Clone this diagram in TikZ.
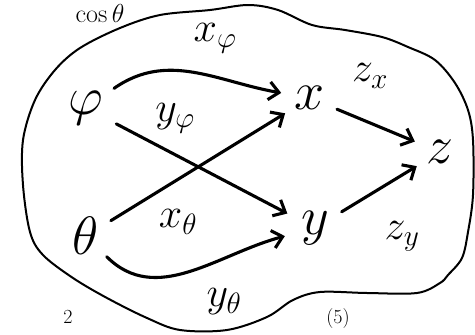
\RequirePackage{fix-cm}
\documentclass[tikz,border=0pt]{standalone}
\usetikzlibrary{arrows.meta}
\begin{document}
\begin{tikzpicture}[x=1pt,y=-1pt,
  ink/.style={line width=3.1pt,line cap=round,line join=round},
  arr/.style={ink,-{Straight Barb[length=10pt,width=18pt,line width=3.1pt]}},
  var/.style={font=\fontsize{54}{54}\selectfont,circle,inner sep=0pt},
  lab/.style={font=\fontsize{42}{42}\selectfont,inner sep=0pt},
  scrap/.style={font=\fontsize{20}{20}\selectfont,inner sep=0pt}]
\useasboundingbox (0,0) rectangle (475,335);
% blob
\draw[line width=2pt,line join=round] plot[smooth cycle,tension=0.55] coordinates {
 (248,5) (210,10) (160,15) (120,28) (80,48) (55,70) (35,100) (23,140) (23,185)
 (30,232) (43,255) (73,278) (107,298) (147,318) (180,330) (227,330) (267,317)
 (293,300) (320,292) (367,293) (417,293) (440,283) (448,275) (462,258) (468,232)
 (473,195) (473,140) (468,110) (455,83) (435,60) (408,47) (382,37) (345,30)
 (312,25) (278,10)};
% edge texts
\node[font=\fontsize{26}{26}\selectfont,inner sep=0pt,anchor=base] (cos) at (100,22) {$\cos\theta$};
\node[scrap,anchor=north] (two) at (68,310) {$2$};
\node[scrap,anchor=north] (five) at (338,308) {$(5)$};
% variables
\node[var,minimum size=68pt] (phi) at (86,108) {$\varphi$};
\node[var,minimum size=58pt] (theta) at (86,236) {$\theta$};
\node[var,minimum size=58pt] (x) at (310,98) {$x$};
\node[var,minimum size=62pt] (y) at (315,228) {$y$};
\node[var,minimum size=54pt] (z) at (440,152) {$z$};
% arrows
\draw[arr] (phi) to[out=35,in=170] (x);
\draw[arr] (phi) -- (y);
\draw[arr] (theta) -- (x);
\draw[arr] (theta) to[out=-45,in=195] (y);
\draw[arr] (x) -- (z);
\draw[arr] (y) -- (z);
% labels
\node[lab] (lxphi) at (215,38) {$x_\varphi$};
\node[lab] (lyphi) at (175,118) {$y_\varphi$};
\node[lab] (lxth) at (178,222) {$x_\theta$};
\node[lab] (lyth) at (224,302) {$y_\theta$};
\node[lab] (lzx) at (370,76) {$z_x$};
\node[lab] (lzy) at (402,236) {$z_y$};
\end{tikzpicture}
\end{document}
